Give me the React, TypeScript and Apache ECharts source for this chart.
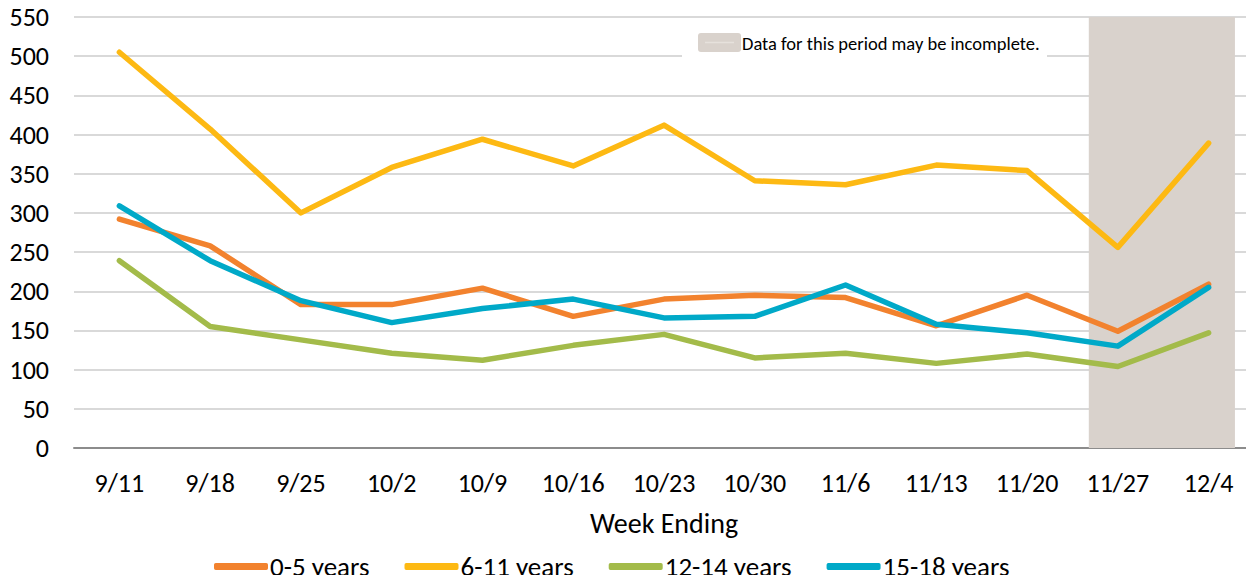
import React, { useEffect, useRef } from "react";
import * as echarts from "echarts";

const weeks = ["9/11", "9/18", "9/25", "10/2", "10/9", "10/16", "10/23", "10/30", "11/6", "11/13", "11/20", "11/27", "12/4"];
const age0to5 = [292, 258, 183, 183, 204, 168, 190, 195, 192, 156, 195, 149, 209];
const age6to11 = [505, 407, 300, 358, 394, 360, 412, 341, 336, 361, 354, 256, 389];
const age12to14 = [239, 155, 138, 121, 112, 131, 145, 115, 121, 108, 120, 104, 147];
const age15to18 = [309, 239, 188, 160, 178, 190, 166, 168, 208, 158, 147, 130, 205];
// incomplete-data period, in category index units (11/27 .. 12/4)
const incompleteRange = [10.68, 12.29];
const yTicks = { min: 0, max: 550, interval: 50 };

const FONT = "Carlito, Lato, 'Open Sans', sans-serif";

export default function App() {
  const ref = useRef<HTMLDivElement>(null);
  useEffect(() => {
    if (!ref.current) return;
    const chart = echarts.init(ref.current, undefined, { renderer: "svg" });
    const mk = (name: string, data: number[], color: string) => ({
      name,
      type: "line",
      data,
      symbol: "none",
      z: 3,
      lineStyle: { color, width: 5.5, cap: "round", join: "round" },
      itemStyle: { color },
    });
    chart.setOption({
      animation: false,
      textStyle: { fontFamily: FONT },
      grid: { left: 74, right: 0, top: 17, bottom: 135 },
      xAxis: [
        {
          type: "category",
          data: weeks,
          boundaryGap: true,
          axisLine: { lineStyle: { color: "#8c8c8c", width: 2 } },
          axisTick: { show: false },
          axisLabel: { color: "#000", fontSize: 26, fontFamily: FONT, margin: 22 },
          name: "Week Ending",
          nameLocation: "middle",
          nameGap: 61,
          nameTextStyle: { color: "#000", fontSize: 28, fontFamily: FONT },
        },
        {
          type: "value",
          min: -0.5,
          max: weeks.length - 0.5,
          show: false,
        },
      ],
      yAxis: {
        type: "value",
        min: yTicks.min,
        max: yTicks.max,
        interval: yTicks.interval,
        axisLine: { show: false },
        axisTick: { show: false },
        axisLabel: { color: "#000", fontSize: 26, fontFamily: FONT, margin: 25 },
        splitLine: { lineStyle: { color: "#d9d9d9", width: 2 } },
      },
      legend: {
        data: ["0-5 years", "6-11 years", "12-14 years", "15-18 years"],
        left: 209,
        top: 548,
        icon: "roundRect",
        itemWidth: 54,
        itemHeight: 7,
        itemGap: 35,
        textStyle: { color: "#000", fontSize: 27, fontFamily: FONT, padding: [0, 0, 0, -3] },
      },
      graphic: [
        {
          type: "rect",
          shape: { x: 682, y: 21, width: 365, height: 39 },
          style: { fill: "#fff" },
          z: 10,
        },
        {
          type: "rect",
          shape: { x: 698, y: 33, width: 43, height: 19, r: 3 },
          style: { fill: "#d9d2cc" },
          z: 11,
        },
        {
          type: "line",
          shape: { x1: 705, y1: 42.5, x2: 734, y2: 42.5 },
          style: { stroke: "#e6e1dc", lineWidth: 1.5 },
          z: 12,
        },
        {
          type: "text",
          x: 742,
          y: 43,
          style: { text: "Data for this period may be incomplete.", fill: "#000", fontSize: 18.5, fontFamily: FONT, verticalAlign: "middle" },
          z: 11,
        },
      ],
      series: [
        {
          name: "Incomplete",
          type: "line",
          xAxisIndex: 1,
          data: [
            [incompleteRange[0], yTicks.max],
            [incompleteRange[1], yTicks.max],
          ],
          symbol: "none",
          lineStyle: { width: 0 },
          areaStyle: { color: "#d9d2cc", opacity: 1 },
          z: 1,
          silent: true,
        },
        mk("0-5 years", age0to5, "#f2822e"),
        mk("6-11 years", age6to11, "#fdb913"),
        mk("12-14 years", age12to14, "#a3bb4a"),
        mk("15-18 years", age15to18, "#00a9c8"),
      ],
    });
    return () => chart.dispose();
  }, []);
  return <div ref={ref} style={{ width: 1254, height: 583, margin: -8 }} />;
}
